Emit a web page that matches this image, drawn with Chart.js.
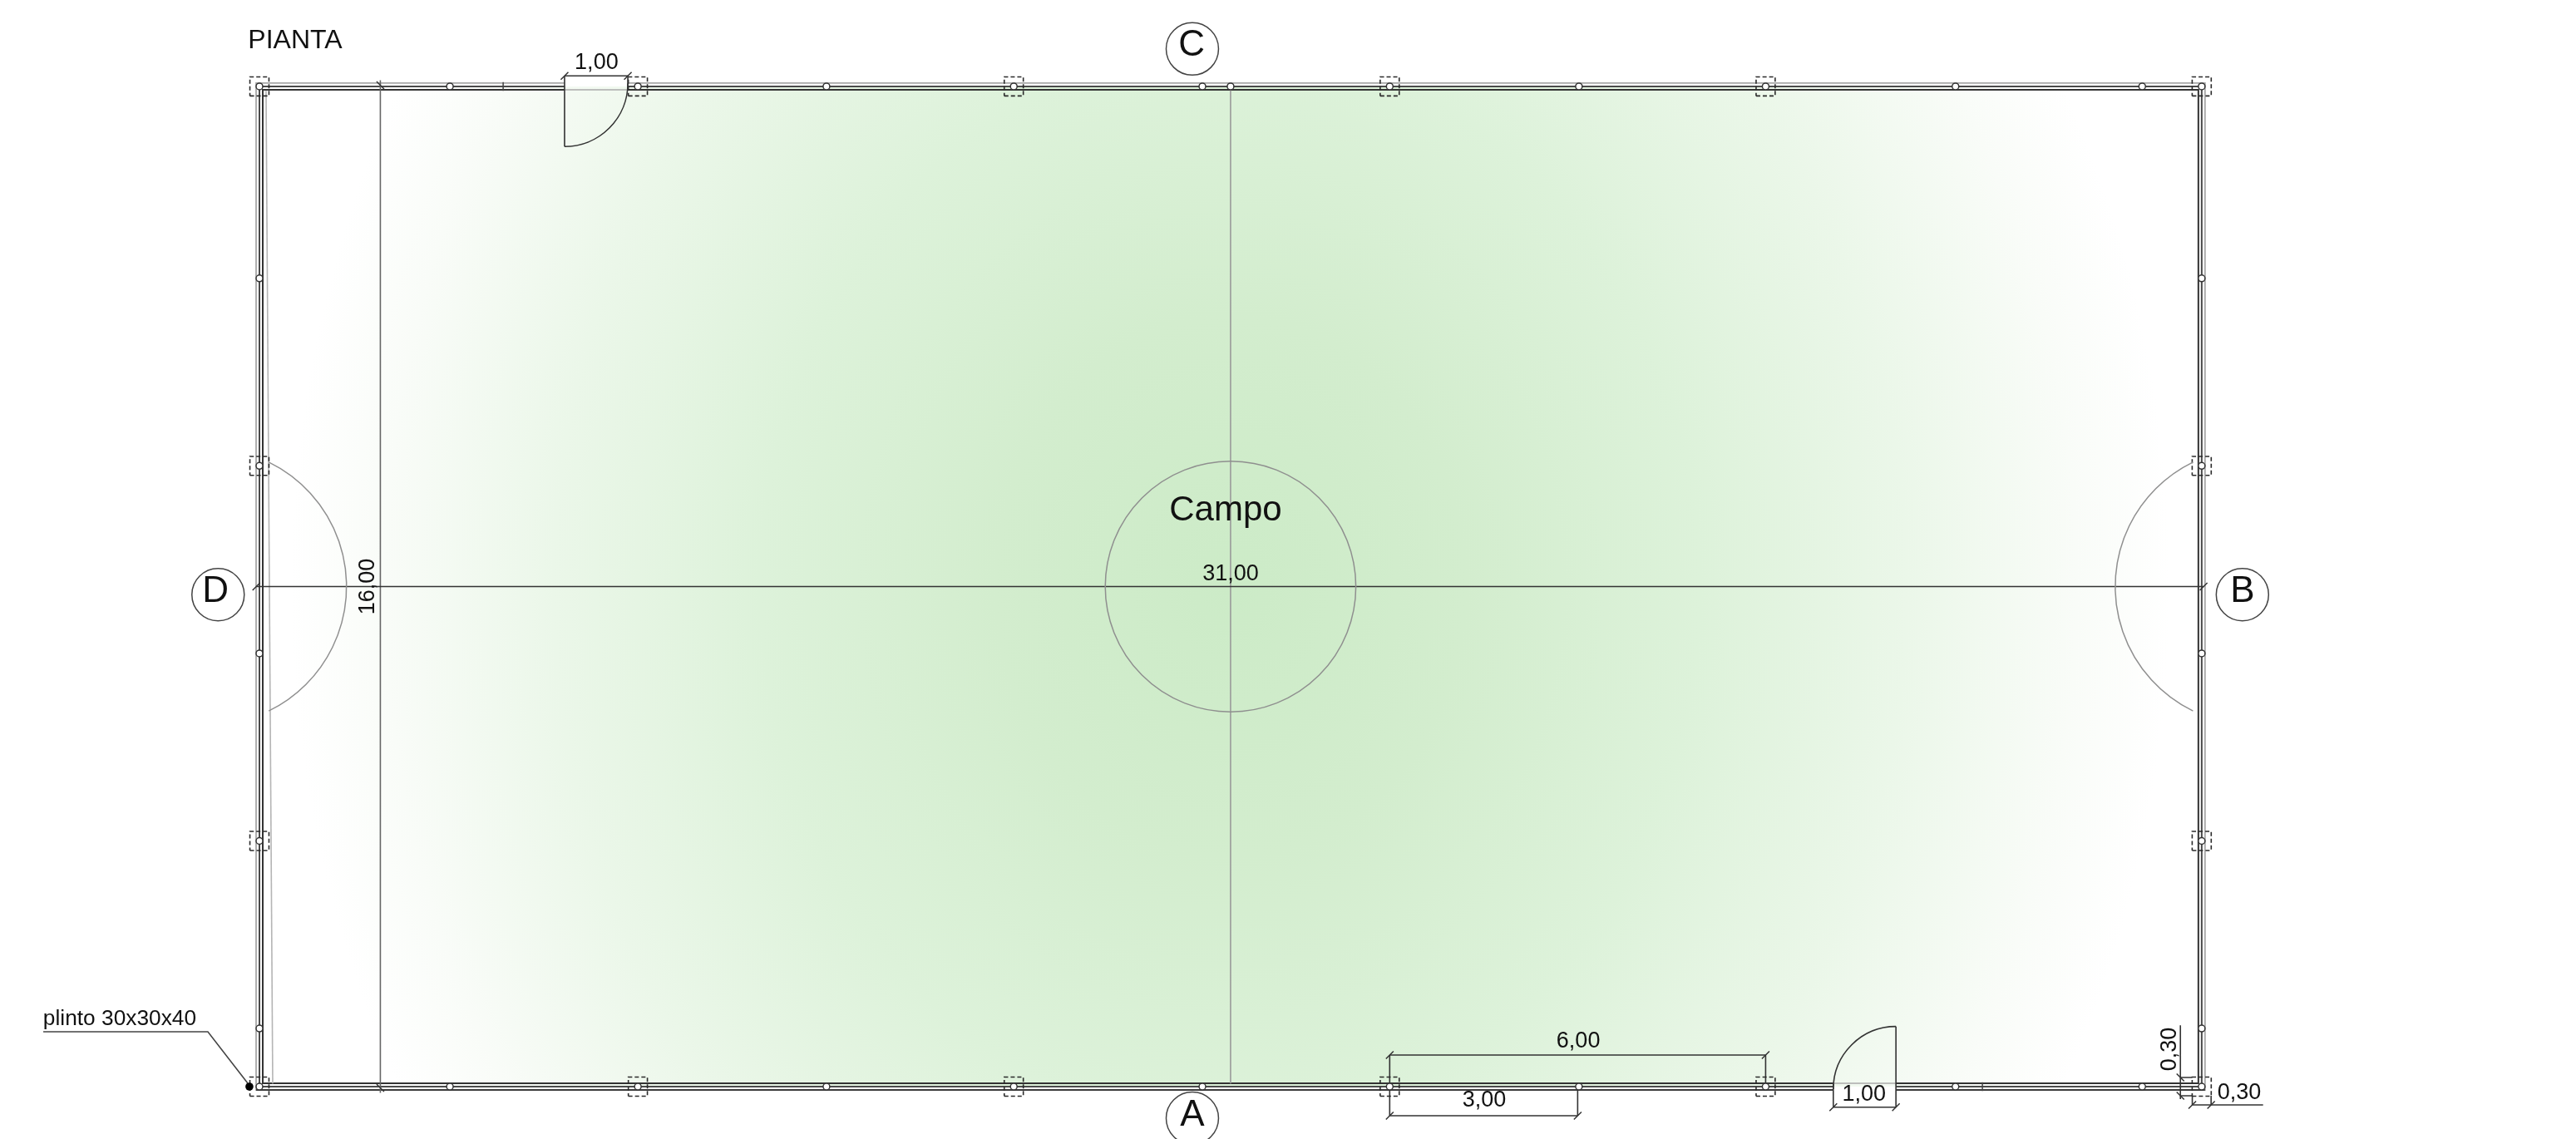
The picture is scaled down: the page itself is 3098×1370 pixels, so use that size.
<!DOCTYPE html>
<html>
<head>
<meta charset="utf-8">
<title>Pianta</title>
<style>
html, body { margin: 0; padding: 0; background: #fff; }
canvas { display: block; }
</style>
<script src="https://cdn.jsdelivr.net/npm/chart.js@4"></script>
</head>
<body>
<canvas id="pianta" width="3098" height="1370"></canvas>
<script>
const planWidth = 31;
const planHeight = 16;

const columnsX = [0, 6.04, 12.04, 18.04, 24.04, 31];
const columnsSideY = [3.93, 9.93];
const postsTopX = [3.04, 9.05, 15.05, 15.5, 21.06, 27.07, 30.05];
const postsBottomX = [3.04, 9.05, 15.05, 21.06, 27.07, 30.05];
const postsSideY = [0.93, 6.93, 12.93];
const wallMarksX = [[3.89, 16], [27.5, 0]];

const doorTop = [4.87, 5.88];
const doorBottom = [25.12, 26.12];

// [x1, y1, x2, y2]
const dimensionLines = [
    [-0.05, 8.0, 31.03, 8.0],
    [4.87, 16.17, 5.88, 16.17],
    [4.87, 16.17, 4.87, 15.04],
    [5.88, 16.17, 5.88, 15.95],
    [18.04, 0.505, 24.04, 0.505],
    [18.04, 0.505, 18.04, 0],
    [24.04, 0.505, 24.04, 0],
    [18.04, -0.465, 21.04, -0.465],
    [18.04, -0.465, 18.04, 0],
    [21.04, -0.465, 21.04, 0],
    [25.12, -0.33, 26.12, -0.33],
    [25.12, -0.33, 25.12, 0.04],
    [26.12, -0.33, 26.12, 0.96],
    [30.66, 0.98, 30.66, -0.2],
    [30.66, 0.146, 30.85, 0.146],
    [30.66, -0.146, 30.85, -0.146],
    [30.85, -0.293, 31.98, -0.293],
    [30.85, -0.146, 30.85, -0.293],
    [31.15, -0.146, 31.15, -0.293]
];
const widthDimension = [[1.93, 16.1, 1.93, -0.1]];
const ticksUp = [[-0.05, 8], [31.03, 8], [4.87, 16.17], [5.88, 16.17], [18.04, 0.505], [24.04, 0.505],
    [18.04, -0.465], [21.04, -0.465], [25.12, -0.33], [26.12, -0.33], [30.85, -0.293], [31.15, -0.293]];
const ticksDown = [[1.93, 16.02], [1.93, -0.02], [30.66, 0.146], [30.66, -0.146]];

const courtLines = [[15.5, 15.95, 15.5, 0.05]];
const slantedLine = [[0.106, 15.93, 0.212, 0.05]];
const leaderLine = [[-3.45, 0.878], [-0.823, 0.878], [-0.186, 0.053]];
const leaderDot = [[-0.16, 0]];

// [x, y, radius, start angle, end angle] angles in degrees, canvas direction
const courtArcs = [
    [15.5, 8, 2.0, 0, 360],
    [-0.82, 8, 2.21, -64, 64],
    [31.83, 8, 2.21, 116, 244]
];
const doorArcs = [
    [4.87, 16.05, 1.01, 0, 90],
    [26.12, -0.04, 1.0, 180, 270]
];

const axisLetters = ['C', 'A', 'D', 'B'];
const axisCircleX = [14.89, 14.89, -0.66, 31.65];
const axisCircleY = [16.6, -0.505, 7.87, 7.87];
const axisLetterX = [14.88, 14.89, -0.7, 31.65];
const axisLetterY = [16.68, -0.44, 7.94, 7.94];

const labelTexts = ['PIANTA', '1,00', 'Campo', '31,00', '16,00', '6,00', '3,00', '1,00', '0,30', '0,30', 'plinto 30x30x40'];
const labelX = [0.57, 5.38, 15.42, 15.5, 1.7, 21.05, 19.55, 25.61, 31.6, 30.46, -2.23];
const labelY = [16.76, 16.4, 9.24, 8.22, 8.0, 0.755, -0.2, -0.095, -0.068, 0.6, 1.102];
const labelSize = [32, 27, 42, 27, 27, 27, 27, 27, 27, 27, 26.3];
const labelTurned = [false, false, false, false, true, false, false, false, false, true, false];

const fieldStops = [
    [0, '#ccebc7'],
    [0.25, '#d3edce'],
    [0.5, '#ddf2da'],
    [0.72, '#ebf7e9'],
    [0.9, '#f9fcf8'],
    [1, '#ffffff']
];

// ---------- helpers

function toPoints(segments) {
    let points = [];
    segments.forEach(function (s) {
        points.push({ x: s[0], y: s[1] }, { x: s[2], y: s[3] }, { x: NaN, y: NaN });
    });
    return points;
}

function wallPath(off, topGap, bottomGap) {
    let left = -off, right = planWidth + off, top = planHeight + off, bottom = -off;
    let points = [];
    points.push({ x: topGap[1], y: top }, { x: right, y: top }, { x: right, y: bottom });
    points.push({ x: bottomGap[1], y: bottom }, { x: NaN, y: NaN }, { x: bottomGap[0], y: bottom });
    points.push({ x: left, y: bottom }, { x: left, y: top }, { x: topGap[0], y: top });
    return points;
}

function squares(list, half) {
    let points = [];
    list.forEach(function (c) {
        points.push({ x: c[0] - half, y: c[1] - half }, { x: c[0] + half, y: c[1] - half },
            { x: c[0] + half, y: c[1] + half }, { x: c[0] - half, y: c[1] + half },
            { x: c[0] - half, y: c[1] - half }, { x: NaN, y: NaN });
    });
    return points;
}

function tickSegments(list, sign) {
    const t = 0.06;
    return toPoints(list.map(function (p) {
        return [p[0] - t, p[1] - sign * t, p[0] + t, p[1] + sign * t];
    }));
}

function lineSet(data, color, width, dash) {
    return {
        type: 'line', data: data, borderColor: color, borderWidth: width,
        borderDash: dash || [], pointRadius: 0, fill: false, tension: 0, spanGaps: false
    };
}

// ---------- built from the arrays above

let columnPoints = [];
columnsX.forEach(function (x) {
    columnPoints.push([x, 0], [x, planHeight]);
});
columnsSideY.forEach(function (y) {
    columnPoints.push([0, y], [planWidth, y]);
});

let postPoints = [];
postsTopX.forEach(function (x) { postPoints.push({ x: x, y: planHeight }); });
postsBottomX.forEach(function (x) { postPoints.push({ x: x, y: 0 }); });
postsSideY.forEach(function (y) {
    postPoints.push({ x: 0, y: y }, { x: planWidth, y: y });
});
columnPoints.forEach(function (c) { postPoints.push({ x: c[0], y: c[1] }); });

const axisPoints = axisCircleX.map(function (x, i) { return { x: x, y: axisCircleY[i] }; });

// ---------- plugins, they only use the chart's scales for positions

const fieldFill = {
    id: 'fieldFill',
    beforeDatasetsDraw: function (chart) {
        const ctx = chart.ctx, sx = chart.scales.x, sy = chart.scales.y;
        const x0 = sx.getPixelForValue(0), x1 = sx.getPixelForValue(planWidth);
        const y0 = sy.getPixelForValue(planHeight), y1 = sy.getPixelForValue(0);
        const cx = sx.getPixelForValue(15.5), cy = sy.getPixelForValue(8);
        const rx = 1130, ry = 1130 * 1.15;
        ctx.save();
        ctx.beginPath();
        ctx.rect(x0, y0, x1 - x0, y1 - y0);
        ctx.clip();
        ctx.translate(cx, cy);
        ctx.scale(1, ry / rx);
        let g = ctx.createRadialGradient(0, 0, 0, 0, 0, rx);
        fieldStops.forEach(function (s) { g.addColorStop(s[0], s[1]); });
        ctx.fillStyle = g;
        ctx.fillRect(-rx * 2, -rx * 2, rx * 4, rx * 4);
        ctx.restore();
    }
};

const planDrawing = {
    id: 'planDrawing',
    afterDatasetsDraw: function (chart) {
        const ctx = chart.ctx, sx = chart.scales.x, sy = chart.scales.y;
        const pxPerMetre = sx.getPixelForValue(1) - sx.getPixelForValue(0);

        function drawArc(a, color, width) {
            ctx.beginPath();
            ctx.strokeStyle = color;
            ctx.lineWidth = width;
            ctx.arc(sx.getPixelForValue(a[0]), sy.getPixelForValue(a[1]), a[2] * pxPerMetre,
                a[3] * Math.PI / 180, a[4] * Math.PI / 180);
            ctx.stroke();
        }
        ctx.save();
        courtArcs.forEach(function (a) { drawArc(a, '#8f8f8f', 1.5); });
        doorArcs.forEach(function (a) { drawArc(a, '#333333', 1.6); });

        ctx.fillStyle = '#111111';
        ctx.textAlign = 'center';
        ctx.textBaseline = 'middle';
        labelTexts.forEach(function (t, i) {
            ctx.save();
            ctx.translate(sx.getPixelForValue(labelX[i]), sy.getPixelForValue(labelY[i]));
            if (labelTurned[i]) {
                ctx.rotate(-Math.PI / 2);
            }
            ctx.font = labelSize[i] + 'px "Liberation Sans"';
            ctx.fillText(t, 0, 2);
            ctx.restore();
        });
        ctx.font = '44px "Liberation Sans"';
        axisLetters.forEach(function (t, i) {
            ctx.fillText(t, sx.getPixelForValue(axisLetterX[i]), sy.getPixelForValue(axisLetterY[i]) + 2);
        });
        ctx.restore();
    }
};

// chart.js paints the first dataset on top, so the list is written back to front
const backToFront = [
    lineSet(wallPath(0.053, doorTop, doorBottom), '#a8a8a8', 1.8),
    lineSet(toPoints([[-0.053, -0.053, doorBottom[0], -0.053], [doorBottom[1], -0.053, 31.053, -0.053]]), '#3c3c3c', 1.8),
    lineSet(wallPath(0, doorTop, doorBottom), '#4a4a4a', 2),
    lineSet(wallPath(-0.053, doorTop, doorBottom), '#333333', 2),
    lineSet(toPoints(slantedLine), '#b5b5b5', 1.6),
    lineSet(toPoints([[doorTop[0], 15.947, doorTop[1], 15.947], [doorBottom[0], 0.053, doorBottom[1], 0.053]]), '#aaaaaa', 1.6),
    lineSet(toPoints(courtLines), '#9a9a9a', 1.6),
    lineSet(toPoints(widthDimension), '#666666', 1.6),
    lineSet(toPoints(dimensionLines), '#333333', 1.6),
    lineSet(tickSegments(ticksUp, 1), '#333333', 1.5),
    lineSet(tickSegments(ticksDown, -1), '#333333', 1.5),
    lineSet(toPoints(wallMarksX.map(function (m) { return [m[0], m[1] - 0.07, m[0], m[1] + 0.07]; })), '#444444', 1.5),
    lineSet(squares(columnPoints, 0.152), '#2a2a2a', 1.6, [5, 3]),
    lineSet(leaderLine.map(function (p) { return { x: p[0], y: p[1] }; }), '#444444', 1.6),
    {
        data: leaderDot.map(function (p) { return { x: p[0], y: p[1] }; }),
        pointRadius: 4.8, pointBackgroundColor: '#000000', pointBorderWidth: 0
    },
    {
        data: postPoints, pointRadius: 4, pointBackgroundColor: '#ffffff',
        pointBorderColor: '#333333', pointBorderWidth: 1.5
    },
    {
        data: axisPoints, pointRadius: 31.5, pointBackgroundColor: 'rgba(0,0,0,0)',
        pointBorderColor: '#444444', pointBorderWidth: 1.5
    }
];

const config = {
    type: 'scatter',
    data: { datasets: backToFront.reverse() },
    options: {
        responsive: false,
        devicePixelRatio: 1,
        animation: false,
        layout: { autoPadding: false, padding: 0 },
        plugins: { legend: { display: false }, tooltip: { enabled: false } },
        scales: {
            x: { type: 'linear', display: false, min: -312 / 75.35, max: (3098 - 312) / 75.35 },
            y: { type: 'linear', display: false, min: -63 / 75.19, max: 1307 / 75.19 }
        }
    },
    plugins: [fieldFill, planDrawing]
};

new Chart(document.getElementById('pianta'), config);
</script>
</body>
</html>
